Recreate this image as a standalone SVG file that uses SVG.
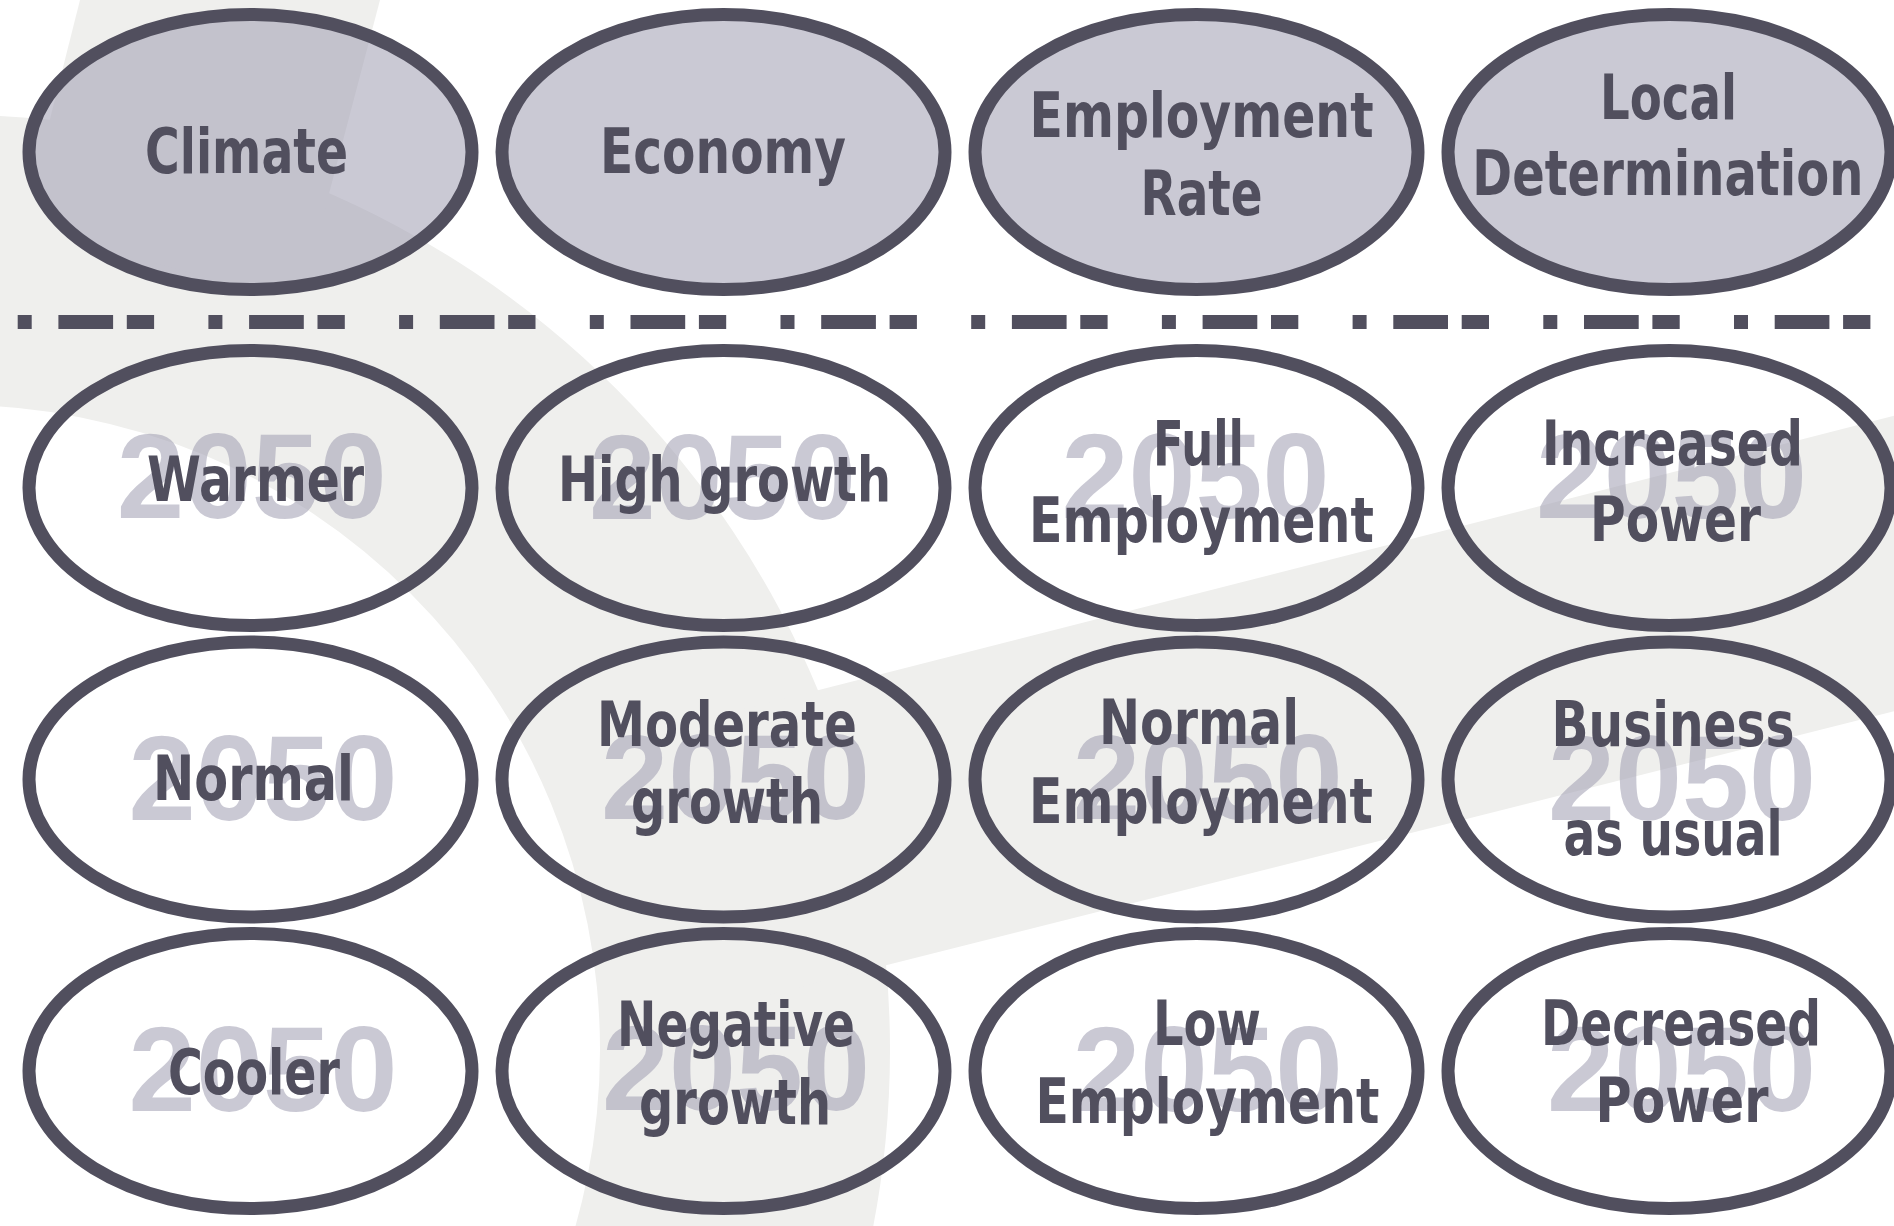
<svg xmlns="http://www.w3.org/2000/svg" width="1894" height="1226" viewBox="0 0 1894 1226">
<style>
.bg{fill:#efefed}
.node{stroke:#514f5e;stroke-width:13}
.head{fill:#9e9cb0;fill-opacity:0.55}
.val{fill:none}
.yr{font-family:'Liberation Sans','DejaVu Sans',sans-serif;font-weight:bold;font-size:120px;fill:#9e9cb0;fill-opacity:0.55;text-anchor:middle}
.lbl{font-family:'Liberation Sans Narrow','DejaVu Sans Condensed','Liberation Sans',sans-serif;font-weight:bold;font-size:62px;fill:#514f5e;text-anchor:middle}
.sep{stroke:#514f5e;stroke-width:14;stroke-dasharray:14 26.7 54.7 13.7 27.3 54.3;fill:none}
</style>
<rect x="0" y="0" width="1894" height="1226" fill="#ffffff"/>
<g id="background">
<path class="bg" fill-rule="evenodd" d="M -980,1050 a935,935 0 1,0 1870,0 a935,935 0 1,0 -1870,0 Z M -690,1050 a645,645 0 1,0 1290,0 a645,645 0 1,0 -1290,0 Z"/>
<polygon class="bg" points="80,0 380,0 301,300 22,230"/>
<polygon class="bg" points="700,720.3 1894,415.8 1894,711.2 700,1012"/>
</g>
<g id="connectors">
<line class="sep" x1="17.7" y1="322" x2="1871" y2="322"/>
</g>
<g id="node-climate">
<ellipse class="node head" cx="250.5" cy="152" rx="221.5" ry="137.5"/>
<text class="lbl" x="246.5" y="173" textLength="203" lengthAdjust="spacingAndGlyphs">Climate</text>
</g>
<g id="node-economy">
<ellipse class="node head" cx="723.5" cy="152" rx="221.5" ry="137.5"/>
<text class="lbl" x="723" y="173" textLength="246" lengthAdjust="spacingAndGlyphs">Economy</text>
</g>
<g id="node-employment-rate">
<ellipse class="node head" cx="1196.5" cy="152" rx="221.5" ry="137.5"/>
<text class="lbl" x="1201.6" y="137" textLength="344" lengthAdjust="spacingAndGlyphs">Employment</text>
<text class="lbl" x="1201.6" y="214.5" textLength="122" lengthAdjust="spacingAndGlyphs">Rate</text>
</g>
<g id="node-local-determination">
<ellipse class="node head" cx="1669.5" cy="152" rx="221.5" ry="137.5"/>
<text class="lbl" x="1668.5" y="119" textLength="137" lengthAdjust="spacingAndGlyphs">Local</text>
<text class="lbl" x="1667.8" y="194.5" textLength="391" lengthAdjust="spacingAndGlyphs">Determination</text>
</g>
<g id="node-warmer">
<ellipse class="node val" cx="250.5" cy="488" rx="221.5" ry="137.5"/>
<text class="yr" x="251.7" y="518" textLength="270" lengthAdjust="spacingAndGlyphs">2050</text>
<text class="lbl" x="255.5" y="501" textLength="217" lengthAdjust="spacingAndGlyphs">Warmer</text>
</g>
<g id="node-high-growth">
<ellipse class="node val" cx="723.5" cy="488" rx="221.5" ry="137.5"/>
<text class="yr" x="722.5" y="519" textLength="267" lengthAdjust="spacingAndGlyphs">2050</text>
<text class="lbl" x="724.5" y="501" textLength="333" lengthAdjust="spacingAndGlyphs">High growth</text>
</g>
<g id="node-full-employment">
<ellipse class="node val" cx="1196.5" cy="488" rx="221.5" ry="137.5"/>
<text class="yr" x="1195.5" y="518" textLength="268" lengthAdjust="spacingAndGlyphs">2050</text>
<text class="lbl" x="1198.5" y="464.6" textLength="91" lengthAdjust="spacingAndGlyphs">Full</text>
<text class="lbl" x="1201.5" y="541.7" textLength="345" lengthAdjust="spacingAndGlyphs">Employment</text>
</g>
<g id="node-increased-power">
<ellipse class="node val" cx="1669.5" cy="488" rx="221.5" ry="137.5"/>
<text class="yr" x="1671.5" y="518" textLength="271" lengthAdjust="spacingAndGlyphs">2050</text>
<text class="lbl" x="1672.4" y="464.6" textLength="261" lengthAdjust="spacingAndGlyphs">Increased</text>
<text class="lbl" x="1675.5" y="541" textLength="171" lengthAdjust="spacingAndGlyphs">Power</text>
</g>
<g id="node-normal">
<ellipse class="node val" cx="250.5" cy="779.5" rx="221.5" ry="137.5"/>
<text class="yr" x="263" y="819.6" textLength="269" lengthAdjust="spacingAndGlyphs">2050</text>
<text class="lbl" x="253.5" y="799.6" textLength="201" lengthAdjust="spacingAndGlyphs">Normal</text>
</g>
<g id="node-moderate-growth">
<ellipse class="node val" cx="723.5" cy="779.5" rx="221.5" ry="137.5"/>
<text class="yr" x="735.5" y="819" textLength="269" lengthAdjust="spacingAndGlyphs">2050</text>
<text class="lbl" x="727" y="746" textLength="260" lengthAdjust="spacingAndGlyphs">Moderate</text>
<text class="lbl" x="727" y="822.6" textLength="192" lengthAdjust="spacingAndGlyphs">growth</text>
</g>
<g id="node-normal-employment">
<ellipse class="node val" cx="1196.5" cy="779.5" rx="221.5" ry="137.5"/>
<text class="yr" x="1207.7" y="818.8" textLength="270" lengthAdjust="spacingAndGlyphs">2050</text>
<text class="lbl" x="1199" y="743.7" textLength="200" lengthAdjust="spacingAndGlyphs">Normal</text>
<text class="lbl" x="1201" y="822.8" textLength="344" lengthAdjust="spacingAndGlyphs">Employment</text>
</g>
<g id="node-business-as-usual">
<ellipse class="node val" cx="1669.5" cy="779.5" rx="221.5" ry="137.5"/>
<text class="yr" x="1682" y="819.6" textLength="268" lengthAdjust="spacingAndGlyphs">2050</text>
<text class="lbl" x="1673" y="745.7" textLength="243" lengthAdjust="spacingAndGlyphs">Business</text>
<text class="lbl" x="1673" y="854.7" textLength="219" lengthAdjust="spacingAndGlyphs">as usual</text>
</g>
<g id="node-cooler">
<ellipse class="node val" cx="250.5" cy="1071" rx="221.5" ry="137.5"/>
<text class="yr" x="263" y="1111" textLength="269" lengthAdjust="spacingAndGlyphs">2050</text>
<text class="lbl" x="254" y="1094" textLength="172" lengthAdjust="spacingAndGlyphs">Cooler</text>
</g>
<g id="node-negative-growth">
<ellipse class="node val" cx="723.5" cy="1071" rx="221.5" ry="137.5"/>
<text class="yr" x="736" y="1110" textLength="268" lengthAdjust="spacingAndGlyphs">2050</text>
<text class="lbl" x="736" y="1046" textLength="238" lengthAdjust="spacingAndGlyphs">Negative</text>
<text class="lbl" x="735" y="1124" textLength="192" lengthAdjust="spacingAndGlyphs">growth</text>
</g>
<g id="node-low-employment">
<ellipse class="node val" cx="1196.5" cy="1071" rx="221.5" ry="137.5"/>
<text class="yr" x="1207.7" y="1111" textLength="270" lengthAdjust="spacingAndGlyphs">2050</text>
<text class="lbl" x="1207" y="1045" textLength="108" lengthAdjust="spacingAndGlyphs">Low</text>
<text class="lbl" x="1207.4" y="1123" textLength="344" lengthAdjust="spacingAndGlyphs">Employment</text>
</g>
<g id="node-decreased-power">
<ellipse class="node val" cx="1669.5" cy="1071" rx="221.5" ry="137.5"/>
<text class="yr" x="1681.5" y="1111" textLength="269" lengthAdjust="spacingAndGlyphs">2050</text>
<text class="lbl" x="1681" y="1045" textLength="280" lengthAdjust="spacingAndGlyphs">Decreased</text>
<text class="lbl" x="1682" y="1122" textLength="173" lengthAdjust="spacingAndGlyphs">Power</text>
</g>
</svg>
